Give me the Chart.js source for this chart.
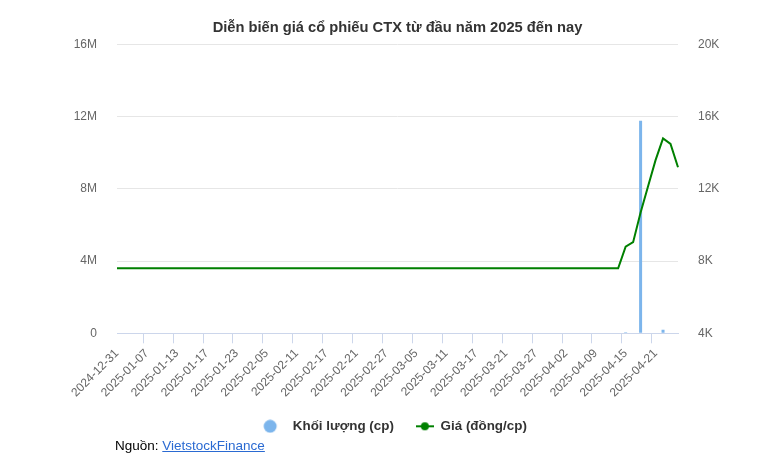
<!DOCTYPE html>
<html lang="vi">
<head>
<meta charset="utf-8">
<title>Diễn biến giá cổ phiếu CTX</title>
<script src="https://cdn.jsdelivr.net/npm/chart.js@4.4.1/dist/chart.umd.min.js"></script>
<style>
  html, body { margin: 0; padding: 0; background: #fff; }
  #wrap { position: relative; width: 782px; height: 472px; }
  #source { position: absolute; left: 115px; top: 438px; font: 13.5px "Liberation Sans", Arial, sans-serif; color: #000; }
  #source span { color: #2a6ad2; text-decoration: underline; }
</style>
</head>
<body>
<div id="wrap">
  <canvas id="chart"></canvas>
  <div id="source">Nguồn: <span>VietstockFinance</span></div>
</div>
<script>
// Ngày giao dịch (2024-12-31 -> 2025-04-24)
const dates = [
  '2024-12-31',
  '2025-01-02', '2025-01-03', '2025-01-06', '2025-01-07', '2025-01-08', '2025-01-09', '2025-01-10',
  '2025-01-13', '2025-01-14', '2025-01-15', '2025-01-16', '2025-01-17', '2025-01-20', '2025-01-21',
  '2025-01-22', '2025-01-23', '2025-01-24',
  '2025-02-03', '2025-02-04', '2025-02-05', '2025-02-06', '2025-02-07', '2025-02-10', '2025-02-11',
  '2025-02-12', '2025-02-13', '2025-02-14', '2025-02-17', '2025-02-18', '2025-02-19', '2025-02-20',
  '2025-02-21', '2025-02-24', '2025-02-25', '2025-02-26', '2025-02-27', '2025-02-28',
  '2025-03-03', '2025-03-04', '2025-03-05', '2025-03-06', '2025-03-07', '2025-03-10', '2025-03-11',
  '2025-03-12', '2025-03-13', '2025-03-14', '2025-03-17', '2025-03-18', '2025-03-19', '2025-03-20',
  '2025-03-21', '2025-03-24', '2025-03-25', '2025-03-26', '2025-03-27', '2025-03-28', '2025-03-31',
  '2025-04-01', '2025-04-02', '2025-04-03', '2025-04-04', '2025-04-08', '2025-04-09', '2025-04-10',
  '2025-04-11', '2025-04-14', '2025-04-15', '2025-04-16', '2025-04-17', '2025-04-18', '2025-04-21',
  '2025-04-22', '2025-04-23', '2025-04-24'
];

// Khối lượng (cp)
const volume = [
  0, 0, 0, 0, 0, 0, 0, 0, 0, 0,
  0, 0, 0, 0, 0, 0, 0, 0, 0, 0,
  0, 0, 0, 0, 0, 0, 0, 0, 0, 0,
  0, 0, 0, 0, 0, 0, 0, 0, 0, 0,
  0, 0, 0, 0, 0, 0, 0, 0, 0, 0,
  0, 0, 0, 0, 0, 0, 0, 0, 0, 0,
  0, 0, 0, 0, 0, 0, 0, 0, 60000, 0,
  11780000, 0, 0, 200000, 0, 0
];

// Giá (đồng/cp)
const price = [
  7600, 7600, 7600, 7600, 7600, 7600, 7600, 7600, 7600, 7600,
  7600, 7600, 7600, 7600, 7600, 7600, 7600, 7600, 7600, 7600,
  7600, 7600, 7600, 7600, 7600, 7600, 7600, 7600, 7600, 7600,
  7600, 7600, 7600, 7600, 7600, 7600, 7600, 7600, 7600, 7600,
  7600, 7600, 7600, 7600, 7600, 7600, 7600, 7600, 7600, 7600,
  7600, 7600, 7600, 7600, 7600, 7600, 7600, 7600, 7600, 7600,
  7600, 7600, 7600, 7600, 7600, 7600, 7600, 7600, 8800, 9050,
  10700, 12150, 13600, 14800, 14500, 13200
];

const volumeTicks = ['0', '4M', '8M', '12M', '16M'];
const priceTicks = ['4K', '8K', '12K', '16K', '20K'];
const seriesNames = ['Khối lượng (cp)', 'Giá (đồng/cp)'];

const FONT = '"Liberation Sans", Arial, sans-serif';
const BLUE = '#7cb5ec';
const GREEN = '#008000';

// ký hiệu chú giải
function circleMarker() {
  const c = document.createElement('canvas');
  c.width = 30; c.height = 14;
  const g = c.getContext('2d');
  g.fillStyle = BLUE;
  g.beginPath();
  g.arc(8, 7, 6.5, 0, Math.PI * 2);
  g.fill();
  return c;
}
function lineMarker() {
  const c = document.createElement('canvas');
  c.width = 18; c.height = 10;
  const g = c.getContext('2d');
  g.strokeStyle = GREEN;
  g.lineWidth = 2;
  g.beginPath();
  g.moveTo(0, 5); g.lineTo(18, 5);
  g.stroke();
  g.fillStyle = GREEN;
  g.beginPath();
  g.arc(9, 5, 4, 0, Math.PI * 2);
  g.fill();
  return c;
}
const markers = [circleMarker(), lineMarker()];

new Chart(document.getElementById('chart'), {
  data: {
    labels: dates,
    datasets: [
      {
        type: 'line',
        label: seriesNames[1],
        data: price,
        yAxisID: 'yPrice',
        borderColor: GREEN,
        borderWidth: 2,
        pointRadius: 0,
        tension: 0,
        order: 0
      },
      {
        type: 'bar',
        label: seriesNames[0],
        data: volume,
        yAxisID: 'yVol',
        backgroundColor: BLUE,
        barThickness: 3,
        inflateAmount: 0,
        order: 1
      }
    ]
  },
  options: {
    responsive: true,
    maintainAspectRatio: false,
    animation: false,
    layout: { padding: { left: 0, right: 0, top: 0, bottom: 29 } },
    plugins: {
      title: {
        display: true,
        fullSize: false,
        text: 'Diễn biến giá cổ phiếu CTX từ đầu năm 2025 đến nay',
        color: '#333',
        font: { family: FONT, size: 14.7, weight: 'bold' },
        padding: { top: 19, bottom: 8 }
      },
      legend: {
        position: 'bottom',
        fullSize: false,
        labels: {
          usePointStyle: true,
          pointStyleWidth: 18,
          padding: 22,
          color: '#333',
          font: { family: FONT, size: 13.4, weight: 'bold' },
          generateLabels: () => seriesNames.map((name, i) => ({
            text: name,
            pointStyle: markers[i],
            fontColor: '#333',
            hidden: false,
            datasetIndex: 1 - i,
            lineWidth: 0
          }))
        }
      },
      tooltip: { enabled: false }
    },
    scales: {
      x: {
        type: 'category',
        offset: false,
        grid: {
          drawOnChartArea: false,
          tickLength: 10,
          color: ctx => (ctx.index % 4 === 0 ? '#ccd6eb' : 'rgba(0,0,0,0)')
        },
        border: { color: '#ccd6eb' },
        ticks: {
          autoSkip: false,
          minRotation: 45,
          maxRotation: 45,
          color: '#666',
          font: { family: FONT, size: 12 },
          callback: (v, i) => (i % 4 === 0 ? dates[i] : '')
        },
        afterFit: s => { s.height = 64.3; }
      },
      yVol: {
        position: 'left',
        min: 0,
        max: 16000000,
        grid: { color: '#e6e6e6', drawTicks: false },
        border: { display: false },
        ticks: {
          stepSize: 4000000,
          padding: 20,
          color: '#666',
          font: { family: FONT, size: 12 },
          callback: (v, i) => volumeTicks[i]
        },
        afterFit: s => { s.width = 117; }
      },
      yPrice: {
        position: 'right',
        min: 4000,
        max: 20000,
        grid: { drawOnChartArea: false, drawTicks: false },
        border: { display: false },
        ticks: {
          stepSize: 4000,
          padding: 20,
          color: '#666',
          font: { family: FONT, size: 12 },
          callback: (v, i) => priceTicks[i]
        },
        afterFit: s => { s.width = 104; }
      }
    }
  }
});
</script>
</body>
</html>
